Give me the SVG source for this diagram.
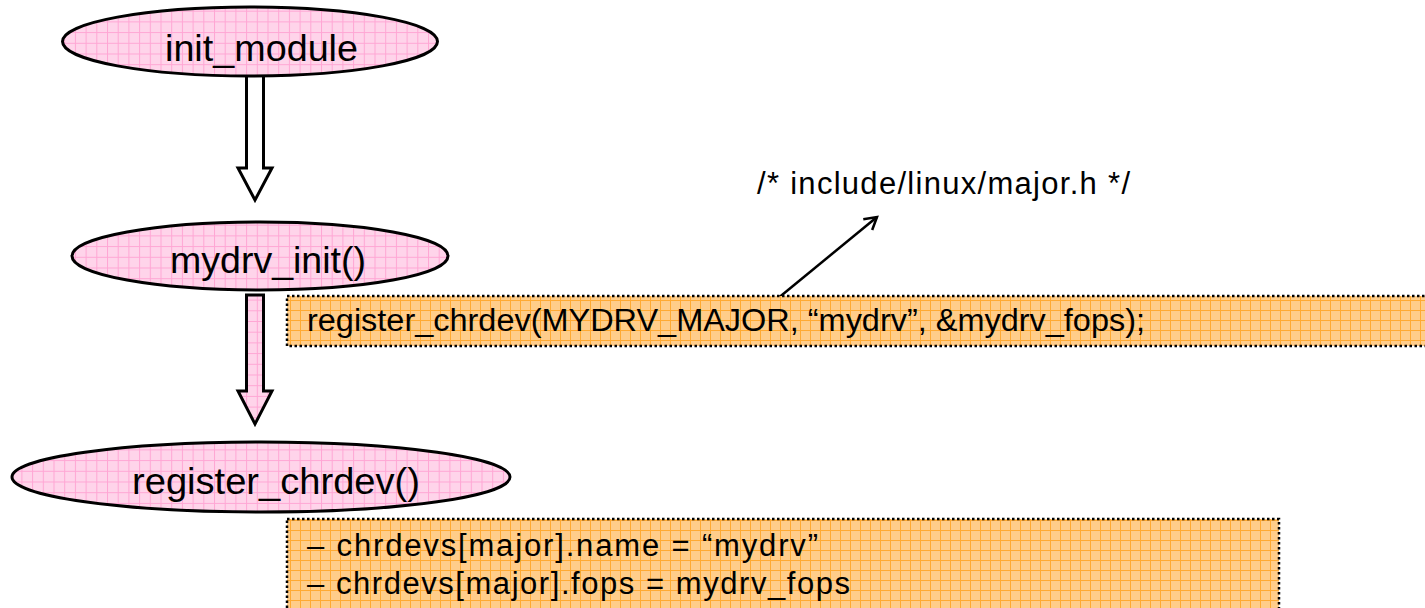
<svg xmlns="http://www.w3.org/2000/svg" width="1425" height="608" viewBox="0 0 1425 608">
<defs>
<pattern id="pinkGrid" width="10.7" height="10.7" patternUnits="userSpaceOnUse">
<rect width="10.7" height="10.7" fill="#ffd4ea"/>
<path d="M0 0.5H10.7M0.5 0V10.7" stroke="#ffa6d4" stroke-width="1" fill="none"/>
</pattern>
<pattern id="orangeGrid" width="10" height="10" patternUnits="userSpaceOnUse">
<rect width="10" height="10" fill="#ffcd8a"/>
<path d="M0 0.5H10M0.5 0V10" stroke="#ffaa33" stroke-width="1" fill="none"/>
</pattern>
<marker id="openArrow" markerWidth="18" markerHeight="18" refX="14" refY="9" orient="auto" markerUnits="userSpaceOnUse">
<path d="M2 2 L14 9 L2 16" fill="none" stroke="#000" stroke-width="2.5"/>
</marker>
<style>
.node ellipse{fill:url(#pinkGrid);stroke:#000;stroke-width:3}
.ntext{font-family:"Liberation Sans",Arial,sans-serif;font-size:37px;fill:#000}
.box rect{fill:url(#orangeGrid);stroke:#000;stroke-width:2.5;stroke-dasharray:2.5 2.5}
.btext{font-family:"Liberation Sans",Arial,sans-serif;font-size:31px;fill:#000}
.bigarrow{stroke:#000;stroke-width:3;stroke-linejoin:miter}
</style>
</defs>
<rect width="1425" height="608" fill="#fff"/>

<g id="connectors">
<path id="arrow1" class="bigarrow" fill="#fff" d="M246.5 72 H263.5 V168 H272 L255 200 L238 168 H246.5 Z"/>
<path id="arrow2" class="bigarrow" fill="url(#pinkGrid)" d="M246.5 295 H263.5 V391 H272 L255 424 L238 391 H246.5 Z"/>
<line id="noteArrow" x1="771" y1="304" x2="877" y2="217" stroke="#000" stroke-width="2.5" marker-end="url(#openArrow)"/>
</g>

<g id="node-init_module" class="node">
<ellipse cx="250" cy="41.5" rx="187.5" ry="34.5"/>
<text class="ntext" x="165" y="61" textLength="193" lengthAdjust="spacingAndGlyphs">init_module</text>
</g>

<g id="node-mydrv_init" class="node">
<ellipse cx="260" cy="256" rx="188" ry="34"/>
<text class="ntext" x="170" y="273" textLength="196" lengthAdjust="spacingAndGlyphs">mydrv_init()</text>
</g>

<g id="node-register_chrdev" class="node">
<ellipse cx="261" cy="477" rx="249" ry="35"/>
<text class="ntext" x="132" y="494" textLength="288" lengthAdjust="spacingAndGlyphs">register_chrdev()</text>
</g>

<g id="box-call" class="box">
<rect x="287" y="296" width="1145" height="50"/>
<text class="btext" x="307" y="331" textLength="838" lengthAdjust="spacingAndGlyphs">register_chrdev(MYDRV_MAJOR, “mydrv”, &amp;mydrv_fops);</text>
</g>

<g id="box-effects" class="box">
<rect x="287" y="519" width="992" height="100"/>
<text class="btext" x="307" y="556" textLength="511" lengthAdjust="spacing">– chrdevs[major].name = “mydrv”</text>
<text class="btext" x="307" y="594" textLength="543" lengthAdjust="spacing">– chrdevs[major].fops = mydrv_fops</text>
</g>

<g id="note">
<text class="btext" x="757" y="194" textLength="373" lengthAdjust="spacing">/* include/linux/major.h */</text>
</g>
</svg>
